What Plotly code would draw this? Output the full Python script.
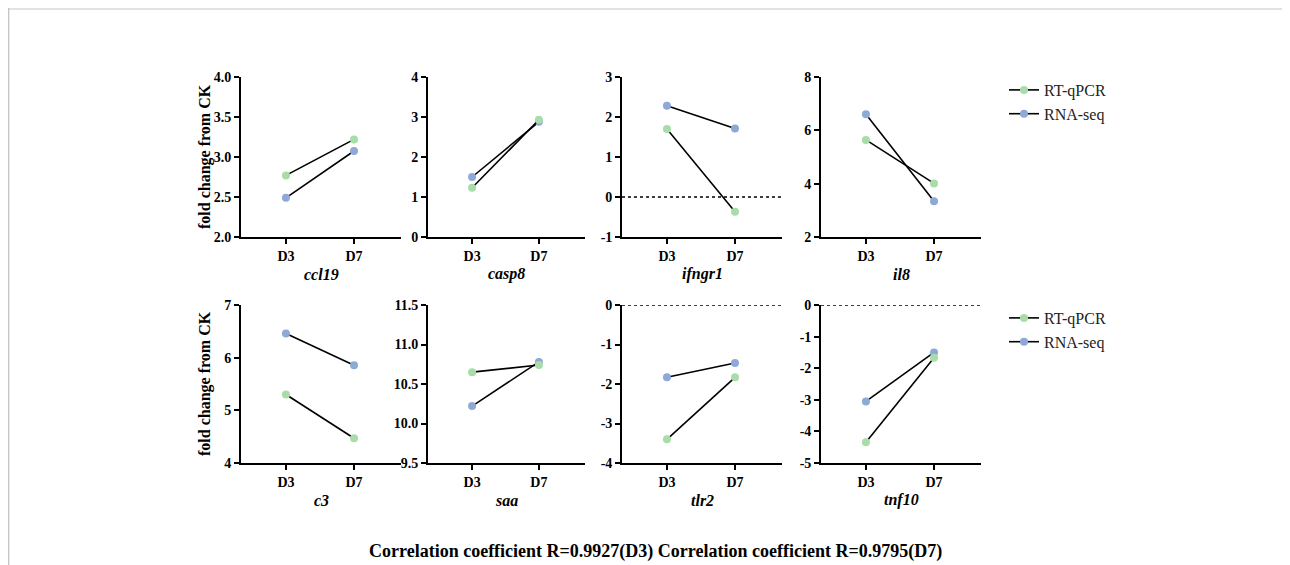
import plotly.graph_objects as go

# ---- data ----
genes = ['ccl19', 'casp8', 'ifngr1', 'il8', 'c3', 'saa', 'tlr2', 'tnf10']
timepoints = ['D3', 'D7']
rtqpcr_d3 = [2.77, 1.23, 1.70, 5.64, 5.30, 10.65, -3.40, -4.34]
rtqpcr_d7 = [3.22, 2.93, -0.37, 4.01, 4.47, 10.74, -1.83, -1.67]
rnaseq_d3 = [2.49, 1.50, 2.28, 6.60, 6.46, 10.22, -1.83, -3.05]
rnaseq_d7 = [3.075, 2.88, 1.71, 3.34, 5.855, 10.78, -1.47, -1.50]
y_ranges = [[2, 4], [0, 4], [-1, 3], [2, 8], [4, 7], [9.5, 11.5], [-4, 0], [-5, 0]]
y_tickvals = [
    [2.0, 2.5, 3.0, 3.5, 4.0],
    [0, 1, 2, 3, 4],
    [-1, 0, 1, 2, 3],
    [2, 4, 6, 8],
    [4, 5, 6, 7],
    [9.5, 10.0, 10.5, 11.0, 11.5],
    [-4, -3, -2, -1, 0],
    [-5, -4, -3, -2, -1, 0],
]
y_ticktext = [
    ['2.0', '2.5', '3.0', '3.5', '4.0'],
    ['0', '1', '2', '3', '4'],
    ['-1', '0', '1', '2', '3'],
    ['2', '4', '6', '8'],
    ['4', '5', '6', '7'],
    ['9.5', '10.0', '10.5', '11.0', '11.5'],
    ['-4', '-3', '-2', '-1', '0'],
    ['-5', '-4', '-3', '-2', '-1', '0'],
]
zero_line_panels = [2, 6, 7]
series_names = ['RT-qPCR', 'RNA-seq']
series_colors = ['#a8dca8', '#8ea9d8']
title_text = 'Correlation coefficient R=0.9927(D3) Correlation coefficient R=0.9795(D7)'

OFF = 8  # page body margin
W, H = 1290 - OFF, 565 - OFF
FONT = 'Liberation Serif, Times New Roman, serif'


def px_x(x):
    return (x - OFF) / W


def px_y(y):
    return 1 - (y - OFF) / H


col_px = [(241, 401), (428, 585), (622, 782), (821, 981)]
row_px = [(77, 237), (305, 463)]

fig = go.Figure()
layout = dict(
    width=W, height=H,
    margin=dict(l=0, r=0, t=0, b=0, autoexpand=False),
    paper_bgcolor='white', plot_bgcolor='white',
    font=dict(family=FONT, color='black'),
    showlegend=True,
)

annotations = []
shapes = []

for i, g in enumerate(genes):
    r, c = divmod(i, 4)
    n = i + 1
    xa = 'xaxis' if n == 1 else f'xaxis{n}'
    ya = 'yaxis' if n == 1 else f'yaxis{n}'
    xr = 'x' if n == 1 else f'x{n}'
    yr = 'y' if n == 1 else f'y{n}'
    x0, x1 = col_px[c]
    yt, yb = row_px[r]
    layout[xa] = dict(
        domain=[px_x(x0), px_x(x1)], anchor=yr, automargin=False,
        range=[-0.66, 1.69], tickvals=[0, 1], ticktext=timepoints,
        showline=True, linecolor='black', linewidth=1.8,
        ticks='outside', ticklen=5, tickwidth=1.5, tickcolor='black',
        showgrid=False, zeroline=False,
        tickfont=dict(family=FONT, size=14, color='black', weight='bold'),
    )
    layout[ya] = dict(
        domain=[px_y(yb), px_y(yt)], anchor=xr, automargin=False,
        range=y_ranges[i], tickvals=y_tickvals[i], ticktext=y_ticktext[i],
        showline=True, linecolor='black', linewidth=1.8,
        ticks='outside', ticklen=5, tickwidth=1.5, tickcolor='black',
        showgrid=False, zeroline=False,
        tickfont=dict(family=FONT, size=14, color='black', weight='bold'),
    )
    # gene label
    annotations.append(dict(
        text=f'<b><i>{g}</i></b>', xref=f'{xr} domain', yref='paper',
        x=0.5, y=px_y(yb + 37), xanchor='center', yanchor='middle',
        showarrow=False, font=dict(family=FONT, size=16, color='black'),
    ))
    if i in zero_line_panels:
        shapes.append(dict(
            type='line', xref=f'{xr} domain', yref=yr,
            x0=0, x1=1, y0=0, y1=0,
            line=dict(color='black', width=1.5, dash='dot'), layer='below',
        ))
    legend_name = 'legend' if r == 0 else 'legend2'
    series = [(rnaseq_d3[i], rnaseq_d7[i], 1), (rtqpcr_d3[i], rtqpcr_d7[i], 0)]
    for v3, v7, s in series:
        fig.add_trace(go.Scatter(
            x=[0, 1], y=[v3, v7], mode='lines+markers',
            name=series_names[s],
            line=dict(color='black', width=1.6),
            marker=dict(color=series_colors[s], size=8),
            xaxis=xr, yaxis=yr,
            showlegend=(c == 0), legend=legend_name, legendrank=s + 1,
            hoverinfo='skip',
        ))

for r, (yt, yb) in enumerate(row_px):
    annotations.append(dict(
        text='<b>fold change from CK</b>', xref='paper', yref='paper',
        x=px_x(205), y=px_y((yt + yb) / 2), xanchor='center', yanchor='middle',
        textangle=-90, showarrow=False,
        font=dict(family=FONT, size=16, color='black'),
    ))

annotations.append(dict(
    text=f'<b>{title_text}</b>', xref='paper', yref='paper',
    x=px_x(655), y=px_y(551), xanchor='center', yanchor='middle',
    showarrow=False, font=dict(family=FONT, size=18, color='black'),
))

# light frame
shapes.append(dict(type='line', xref='paper', yref='paper', x0=0, x1=1,
                   y0=px_y(9), y1=px_y(9), line=dict(color='#e2e2e2', width=2)))
shapes.append(dict(type='line', xref='paper', yref='paper', x0=0.6 / W, x1=0.6 / W,
                   y0=0, y1=px_y(8), line=dict(color='#c6c6c6', width=1.5)))

leg_common = dict(
    xref='paper', yref='paper', xanchor='left', yanchor='top',
    bgcolor='rgba(0,0,0,0)', borderwidth=0, itemwidth=30,
    font=dict(family=FONT, size=16, color='#222'), tracegroupgap=0,
    traceorder='normal',
)
layout['legend'] = dict(leg_common, x=px_x(1004), y=px_y(73))
layout['legend2'] = dict(leg_common, x=px_x(1004), y=px_y(301))
layout['annotations'] = annotations
layout['shapes'] = shapes

fig.update_layout(**layout)
fig.write_html('out.html')
